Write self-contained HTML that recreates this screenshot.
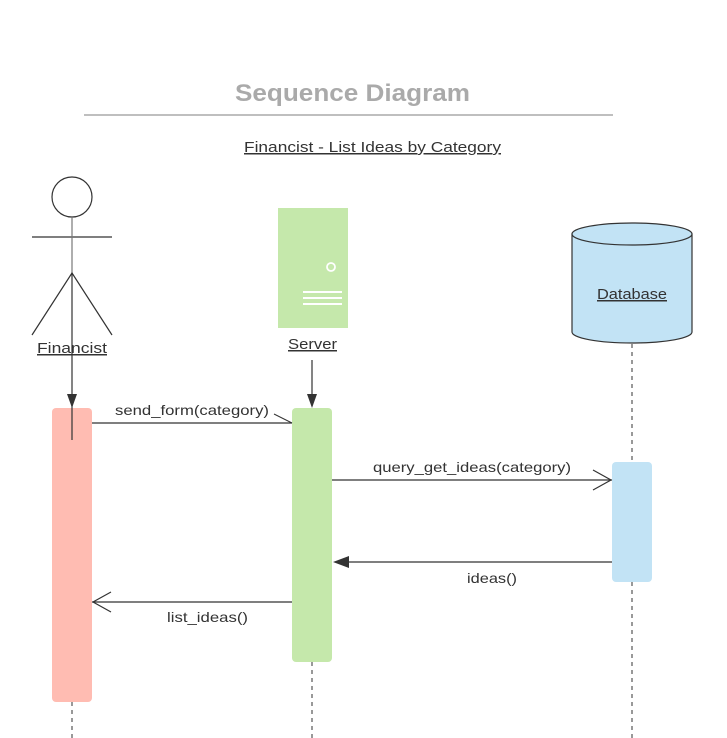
<!DOCTYPE html>
<html><head><meta charset="utf-8"><style>
html,body{margin:0;padding:0;background:#fff;}
svg{display:block;}
text{font-family:"Liberation Sans","DejaVu Sans",sans-serif;fill:#333;}
</style></head><body>
<svg width="727" height="738" viewBox="0 0 727 738" xmlns="http://www.w3.org/2000/svg">
<text x="235" y="101" font-size="24" font-weight="bold" style="fill:#aaa" textLength="235" lengthAdjust="spacingAndGlyphs">Sequence Diagram</text>
<line x1="84" y1="115" x2="613" y2="115" stroke="#aaa" stroke-width="1.5"/>
<text x="244" y="152" font-size="15" text-decoration="underline" textLength="257" lengthAdjust="spacingAndGlyphs">Financist -  List Ideas by Category</text>

<!-- actor -->
<circle cx="72" cy="197" r="20" fill="#fff" stroke="#333" stroke-width="1.2"/>
<line x1="32" y1="237" x2="112" y2="237" stroke="#333" stroke-width="1.2"/>
<line x1="72" y1="217" x2="72" y2="273" stroke="#777" stroke-width="1.2"/>
<polyline points="32,335 72,273 112,335" fill="none" stroke="#333" stroke-width="1.2"/>

<!-- server -->
<rect x="278" y="208" width="70" height="120" fill="#c5e8ab"/>
<circle cx="331" cy="267" r="4" fill="none" stroke="#fff" stroke-width="1.8"/>
<rect x="303" y="291" width="39" height="2" fill="#fff"/>
<rect x="303" y="297" width="39" height="2" fill="#fff"/>
<rect x="303" y="303" width="39" height="2" fill="#fff"/>

<!-- database -->
<path d="M572,234 L572,332 A60,11 0 0 0 692,332 L692,234" fill="#c2e3f5" stroke="#333" stroke-width="1.2"/>
<ellipse cx="632" cy="234" rx="60" ry="11" fill="#c2e3f5" stroke="#333" stroke-width="1.2"/>

<!-- labels -->
<text x="37" y="353" font-size="15" text-decoration="underline" textLength="70" lengthAdjust="spacingAndGlyphs">Financist</text>
<text x="288" y="349" font-size="15" text-decoration="underline" textLength="49" lengthAdjust="spacingAndGlyphs">Server</text>
<text x="597" y="299" font-size="15" text-decoration="underline" textLength="70" lengthAdjust="spacingAndGlyphs">Database</text>

<!-- dashed lifelines -->
<g stroke="#333" stroke-width="1" stroke-dasharray="4,4">
<line x1="72" y1="702" x2="72" y2="738"/>
<line x1="312" y1="662" x2="312" y2="738"/>
<line x1="632" y1="344" x2="632" y2="462"/>
<line x1="632" y1="582" x2="632" y2="738"/>
</g>

<!-- activation bars -->
<rect x="52" y="408" width="40" height="294" rx="4" fill="#ffbcb2"/>
<rect x="292" y="408" width="40" height="254" rx="4" fill="#c5e8ab"/>
<rect x="612" y="462" width="40" height="120" rx="4" fill="#c2e3f5"/>

<!-- arrows down -->
<line x1="72" y1="273" x2="72" y2="440" stroke="#333" stroke-width="1.2"/>
<polygon points="67,394 77,394 72,408" fill="#333"/>
<line x1="312" y1="360" x2="312" y2="396" stroke="#333" stroke-width="1.2"/>
<polygon points="307,394 317,394 312,408" fill="#333"/>

<!-- messages -->
<text x="115" y="415" font-size="14" textLength="154" lengthAdjust="spacingAndGlyphs">send_form(category)</text>
<line x1="92" y1="423" x2="292" y2="423" stroke="#333" stroke-width="1.2"/>
<line x1="274" y1="414" x2="292" y2="423" stroke="#333" stroke-width="1"/>

<text x="373" y="472" font-size="14" textLength="198" lengthAdjust="spacingAndGlyphs">query_get_ideas(category)</text>
<line x1="332" y1="480" x2="612" y2="480" stroke="#333" stroke-width="1.2"/>
<polyline points="593,470 611,480 593,490" fill="none" stroke="#333" stroke-width="1.2"/>

<line x1="345" y1="562" x2="612" y2="562" stroke="#333" stroke-width="1.2"/>
<polygon points="333,562 349,556 349,568" fill="#333"/>
<text x="467" y="583" font-size="14" textLength="50" lengthAdjust="spacingAndGlyphs">ideas()</text>

<line x1="92" y1="602" x2="292" y2="602" stroke="#333" stroke-width="1.2"/>
<polyline points="111,592 93,602 111,612" fill="none" stroke="#333" stroke-width="1.2"/>
<text x="167" y="622" font-size="14" textLength="81" lengthAdjust="spacingAndGlyphs">list_ideas()</text>
</svg>
</body></html>
